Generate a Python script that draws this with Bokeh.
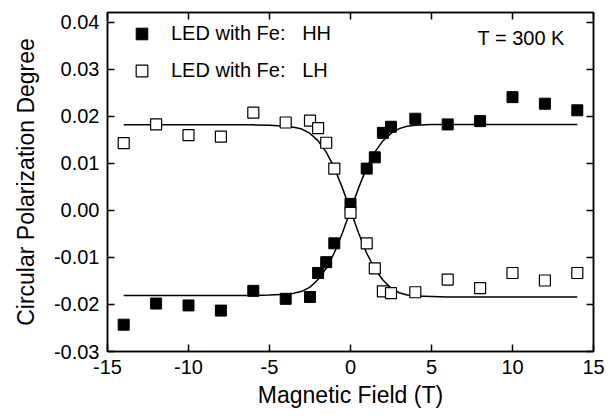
from bokeh.plotting import figure
from bokeh.models import (LinearAxis, FixedTicker, NumeralTickFormatter, CustomJSTickFormatter,
                          Range1d, Legend, LegendItem, Label)
from bokeh.embed import file_html
from bokeh.resources import INLINE

# ---- data ----
field = [-14, -12, -10, -8, -6, -4, -2.5, -2, -1.5, -1, 0, 1, 1.5, 2, 2.5, 4, 6, 8, 10, 12, 14]
hh = [-0.0243, -0.0198, -0.0202, -0.0213, -0.0171, -0.0188, -0.0184, -0.0133, -0.0110, -0.0070,
      0.0014, 0.0089, 0.0113, 0.0165, 0.0178, 0.0195, 0.0183, 0.0190, 0.0241, 0.0227, 0.0213]
lh = [0.0143, 0.0183, 0.0160, 0.0157, 0.0208, 0.0187, 0.0191, 0.0175, 0.0144, 0.0089,
      -0.0005, -0.0070, -0.0123, -0.0172, -0.0176, -0.0174, -0.0147, -0.0165, -0.0133, -0.0149, -0.0133]

fit_x = [-14, -8, -6, -5, -4, -3.5, -3, -2.5, -2, -1.5, -1, -0.5, 0,
         0.5, 1, 1.5, 2, 2.5, 3, 3.5, 4, 5, 6, 8, 14]
hh_fit = [-0.0181, -0.0181, -0.0181, -0.0180, -0.0178, -0.0176, -0.0172, -0.0163, -0.0147, -0.0123,
          -0.0090, -0.0048, 0.0, 0.0048, 0.0091, 0.0124, 0.0148, 0.0164, 0.0174, 0.0179, 0.0181,
          0.0183, 0.0183, 0.0183, 0.0183]
lh_fit = [0.0182, 0.0182, 0.0182, 0.0181, 0.0179, 0.0177, 0.0173, 0.0164, 0.0148, 0.0124,
          0.0091, 0.0048, 0.0, -0.0048, -0.0091, -0.0124, -0.0148, -0.0165, -0.0175, -0.0180,
          -0.0182, -0.0183, -0.0184, -0.0184, -0.0184]

x_ticks = [-15, -10, -5, 0, 5, 10, 15]
y_ticks = [-0.03, -0.02, -0.01, 0.0, 0.01, 0.02, 0.03, 0.04]
label_hh = "LED with Fe:\u00a0\u00a0\u00a0HH"
label_lh = "LED with Fe:\u00a0\u00a0\u00a0LH"
temp_text = "T = 300 K"

FONT = "Liberation Sans"

p = figure(width=608, height=413, output_backend="svg", toolbar_location=None,
           x_range=Range1d(-15, 15), y_range=Range1d(-0.03, 0.0421),
           min_border_left=107, min_border_right=15, min_border_top=12, min_border_bottom=62,
           x_axis_label="Magnetic Field (T)", y_axis_label="Circular Polarization Degree")
p.grid.visible = False
p.outline_line_color = "black"
p.outline_line_width = 1.5
p.background_fill_color = "white"
p.border_fill_color = "white"

def style_axis(ax, ticks, labels=True):
    ax.ticker = FixedTicker(ticks=ticks, num_minor_ticks=5)
    ax.axis_line_color = "black"
    ax.axis_line_width = 1.5
    ax.major_tick_line_color = "black"
    ax.major_tick_line_width = 1.5
    ax.minor_tick_line_color = "black"
    ax.minor_tick_line_width = 1.2
    ax.major_tick_in = 7
    ax.major_tick_out = 0
    ax.minor_tick_in = 4
    ax.minor_tick_out = 0
    ax.major_label_text_font = FONT
    ax.major_label_text_font_size = "20px"
    ax.major_label_text_color = "black"
    ax.axis_label_text_font = FONT
    ax.axis_label_text_font_size = "23px"
    ax.axis_label_text_font_style = "normal"
    ax.axis_label_text_color = "black"
    if not labels:
        ax.formatter = CustomJSTickFormatter(code="return ''")
        ax.major_label_standoff = 0
        ax.major_label_text_font_size = "1px"

xa = p.xaxis[0]
style_axis(xa, x_ticks)
xa.formatter = NumeralTickFormatter(format="0")
xa.major_label_standoff = 8
xa.axis_label_standoff = 5

ya = p.yaxis[0]
style_axis(ya, y_ticks)
ya.formatter = NumeralTickFormatter(format="0.00")
ya.major_label_standoff = 8
ya.axis_label_standoff = 12

top = LinearAxis()
style_axis(top, x_ticks, labels=False)
p.add_layout(top, "above")
right = LinearAxis()
style_axis(right, y_ticks, labels=False)
p.add_layout(right, "right")

# fit curves
p.line(fit_x, hh_fit, line_color="black", line_width=1.5)
p.line(fit_x, lh_fit, line_color="black", line_width=1.5)

r_hh = p.scatter(field, hh, marker="square", size=11, fill_color="black",
                 line_color="black", line_width=1)
r_lh = p.scatter(field, lh, marker="square", size=11, fill_color="white",
                 line_color="black", line_width=1.2)

legend = Legend(items=[LegendItem(label=label_hh, renderers=[r_hh]),
                       LegendItem(label=label_lh, renderers=[r_lh])],
                location="top_left", margin=0, padding=7, spacing=8,
                glyph_width=55, glyph_height=29, label_height=29, label_standoff=2,
                label_text_font=FONT, label_text_font_size="20px", label_text_color="black",
                border_line_alpha=0, background_fill_alpha=0)
p.add_layout(legend, "center")

p.add_layout(Label(x=7.84, y=0.0366, text=temp_text, text_font=FONT, text_font_size="20px",
                   text_align="left", text_baseline="middle", text_color="black"))

open("out.html", "w").write(file_html(p, INLINE))
